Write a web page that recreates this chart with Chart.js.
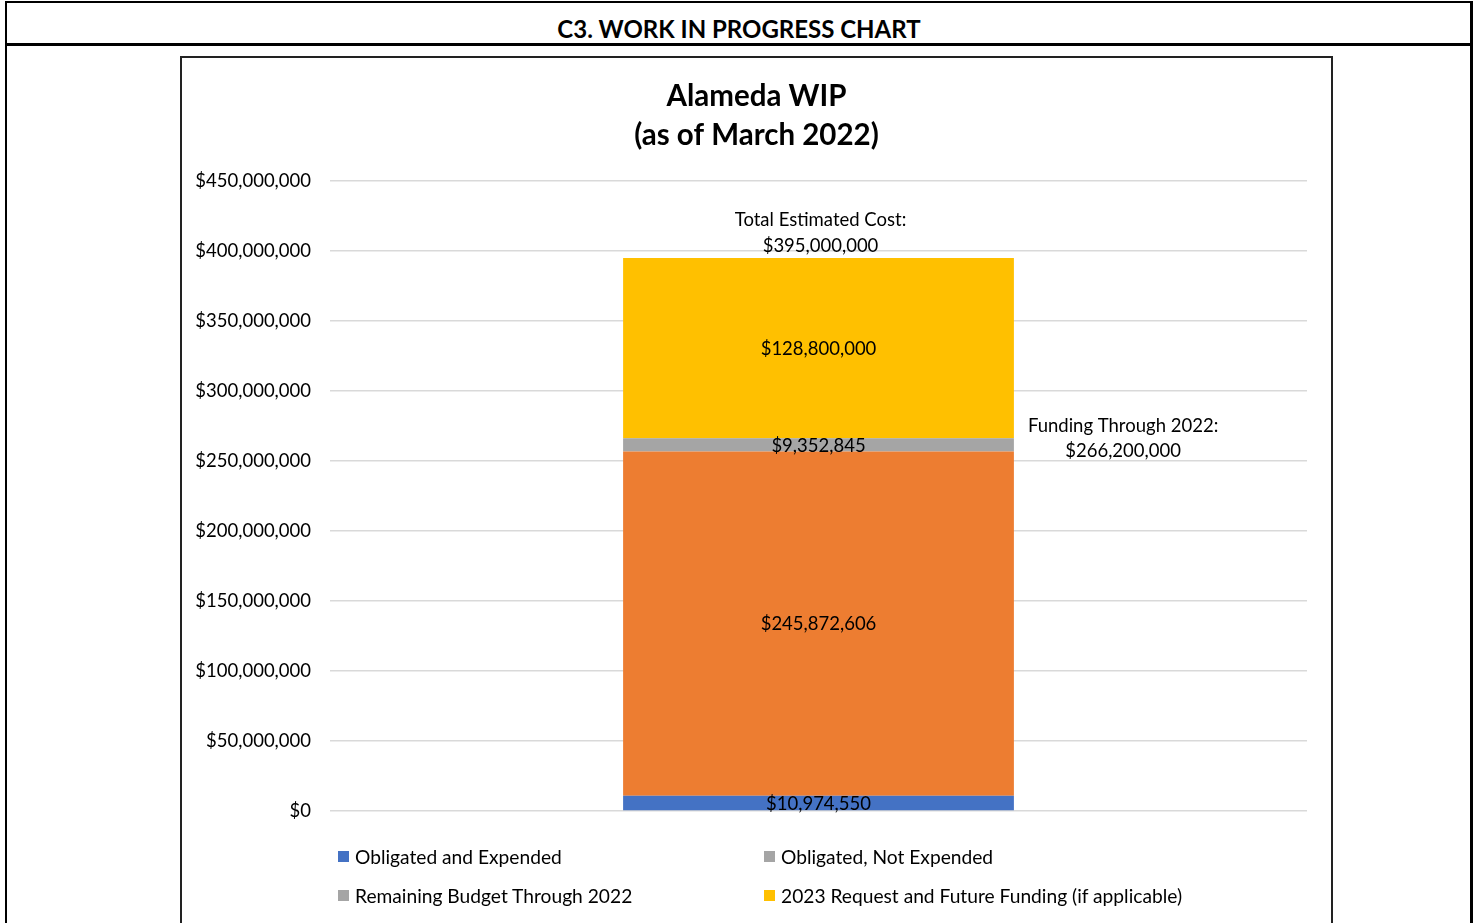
<!DOCTYPE html>
<html>
<head>
<meta charset="utf-8">
<script src="https://cdn.jsdelivr.net/npm/chart.js@4.4.1/dist/chart.umd.min.js"></script>
<style>
  body { margin: 0; background: #fff; font-family: Lato, "Open Sans", sans-serif; }
  .frame { position: absolute; left: 5px; top: 1px; width: 1468px; height: 960px;
           border-left: 2px solid #000; border-top: 2px solid #000; border-right: 3px solid #000;
           box-sizing: border-box; }
  .header { position: absolute; left: 5px; top: 43px; width: 1468px; height: 3px; background: #000; }
  .header-text { position: absolute; left: 5px; width: 1468px; top: 14px; text-align: center;
                 font-weight: bold; font-size: 24px; line-height: 30px; }
  .chart-box { position: absolute; left: 180px; top: 56px; width: 1153px; height: 900px;
               border: 2px solid #222; box-sizing: border-box; }
  .chart-wrap { position: absolute; left: 182px; top: 61px; width: 1149px; height: 862px; }
  .legend { position: absolute; left: 338px; top: 843px; display: grid;
            grid-template-columns: 426px 500px; row-gap: 13px; font-size: 19.2px; }
  .legend div { display: flex; align-items: center; height: 26px; white-space: nowrap; }
  .legend span.box { display: inline-block; width: 11px; height: 11px; margin-right: 6px; }
</style>
</head>
<body>
<div class="frame"></div>
<div class="header"></div>
<div class="header-text">C3. WORK IN PROGRESS CHART</div>
<div class="chart-box"></div>
<div class="chart-wrap"><canvas id="wip"></canvas></div>
<div class="legend" id="legend"></div>
<script>
const categories = ["Alameda"];
const obligatedExpended = [10974550];
const obligatedNotExpended = [245872606];
const remainingBudget2022 = [9352845];
const futureFunding = [128800000];
const totalEstimatedCost = 395000000;
const fundingThrough2022 = 266200000;
const yTickMax = 450000000;
const yTickStep = 50000000;

const money = v => "$" + Math.round(v).toLocaleString("en-US");

const valueLabels = {
    id: "valueLabels",
    afterDatasetsDraw(chart) {
        const { ctx } = chart;
        const y = chart.scales.y;
        ctx.save();
        ctx.font = "18.5px Lato";
        ctx.fillStyle = "#000";
        ctx.textAlign = "center";
        ctx.textBaseline = "middle";
        chart.data.datasets.forEach((ds, i) => {
            chart.getDatasetMeta(i).data.forEach((bar, j) => {
                const p = bar.getCenterPoint();
                ctx.fillText(money(ds.data[j]), p.x, p.y + 1);
            });
        });
        const bar = chart.getDatasetMeta(0).data[0];
        const topY = y.getPixelForValue(totalEstimatedCost);
        ctx.fillText("Total Estimated Cost:", bar.x + 2, topY - 38);
        ctx.fillText(money(totalEstimatedCost), bar.x + 2, topY - 12);
        const fy = y.getPixelForValue(fundingThrough2022);
        const label = "Funding Through 2022:";
        const cx = bar.x + bar.width / 2 + 14 + ctx.measureText(label).width / 2;
        ctx.fillText(label, cx, fy - 12);
        ctx.fillText(money(fundingThrough2022), cx, fy + 13);
        ctx.restore();
    },
};

const chart = new Chart(document.getElementById("wip"), {
    type: "bar",
    data: {
        labels: categories,
        datasets: [
            { label: "Obligated and Expended", data: obligatedExpended, backgroundColor: "#4472c4", legendColor: "#4472c4" },
            { label: "Obligated, Not Expended", data: obligatedNotExpended, backgroundColor: "#ed7d31", legendColor: "#a5a5a5" },
            { label: "Remaining Budget Through 2022", data: remainingBudget2022, backgroundColor: "#a5a5a5", legendColor: "#a5a5a5" },
            { label: "2023 Request and Future Funding (if applicable)", data: futureFunding, backgroundColor: "#ffc000", legendColor: "#ffc000" },
        ],
    },
    options: {
        responsive: true,
        maintainAspectRatio: false,
        animation: false,
        categoryPercentage: 0.4,
        barPercentage: 1,
        layout: { padding: { left: 0, right: 0, top: 0, bottom: 112 } },
        plugins: {
            legend: { display: false },
            tooltip: { enabled: false },
            title: {
                display: true,
                text: ["Alameda WIP", "(as of March 2022)"],
                color: "#000",
                font: { family: "Lato", size: 29.5, weight: "bold", lineHeight: 1.32 },
                padding: { top: 16.5, bottom: 25.6 },
            },
        },
        scales: {
            x: { stacked: true, display: false },
            y: {
                stacked: true,
                min: 0,
                max: yTickMax,
                border: { display: false },
                grid: { color: "#d9d9d9", lineWidth: 1.5, drawTicks: false },
                ticks: {
                    stepSize: yTickStep,
                    padding: 19,
                    color: "#000",
                    font: { family: "Lato", size: 18.5 },
                    callback: v => money(v),
                },
                afterFit: scale => { scale.width = 148; },
            },
            // empty right-hand gutter so the title stays centred on the whole frame
            gutter: {
                type: "linear",
                position: "right",
                min: 0,
                max: 1,
                border: { display: false },
                grid: { display: false },
                ticks: { display: false },
                afterFit: scale => { scale.width = 24; },
            },
        },
    },
    plugins: [valueLabels],
});

const legendEl = document.getElementById("legend");
chart.data.datasets.forEach(ds => {
    const item = document.createElement("div");
    const box = document.createElement("span");
    box.className = "box";
    box.style.background = ds.legendColor;
    item.appendChild(box);
    item.appendChild(document.createTextNode(ds.label));
    legendEl.appendChild(item);
});
</script>
</body>
</html>
